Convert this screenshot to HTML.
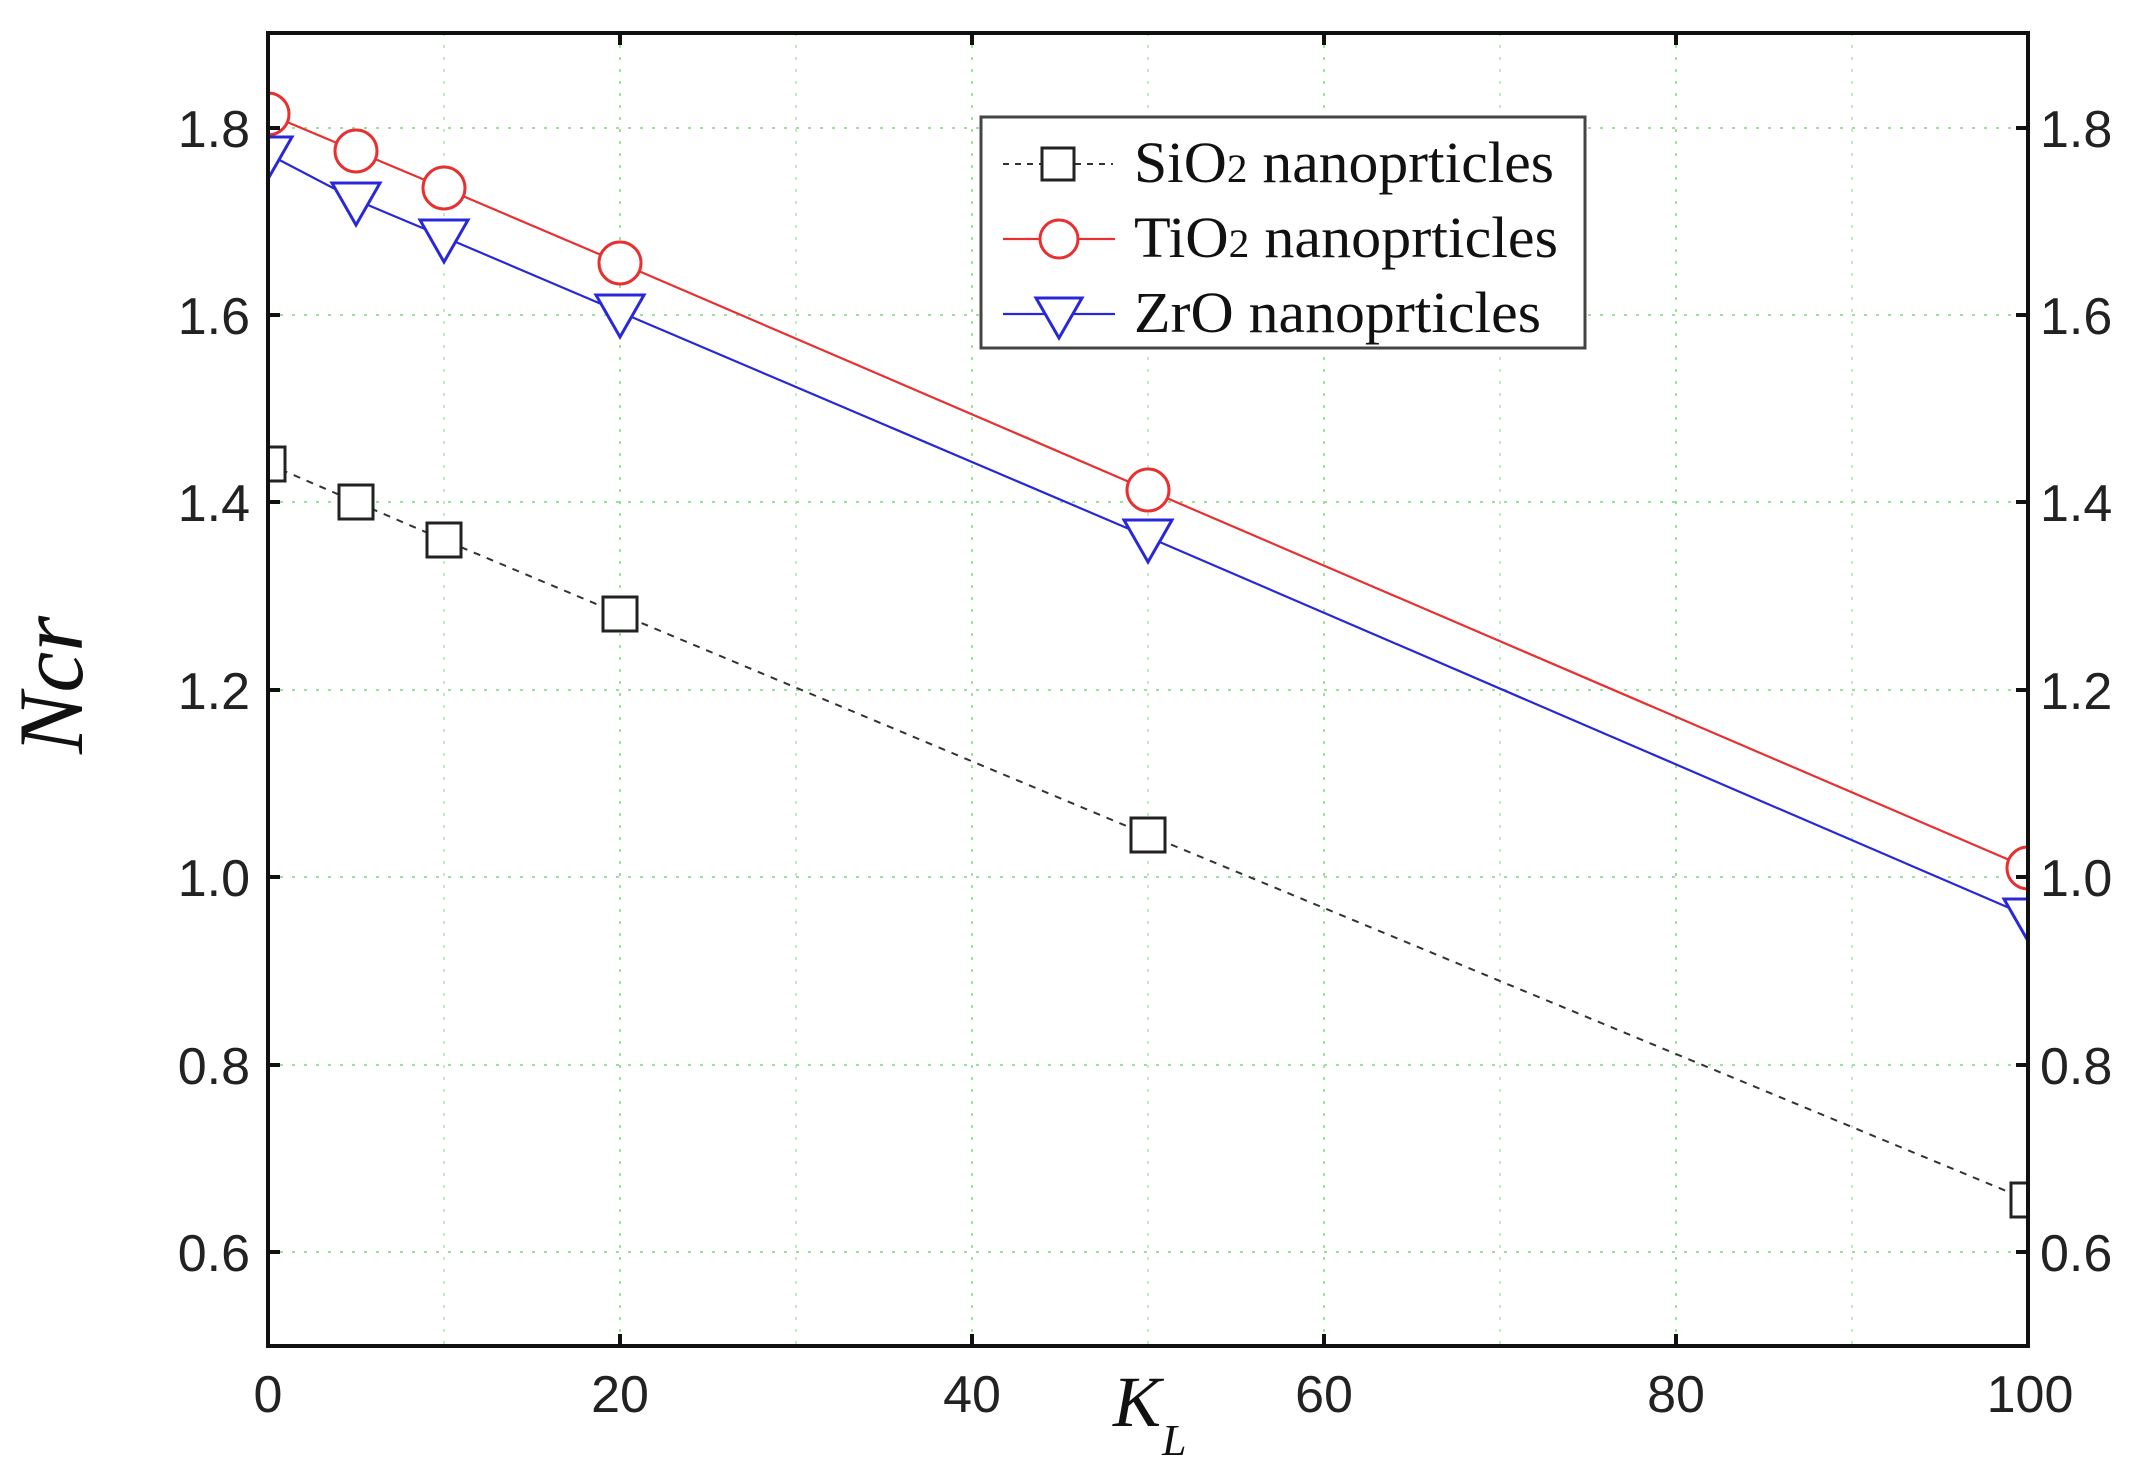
<!DOCTYPE html>
<html><head><meta charset="utf-8"><style>html,body{margin:0;padding:0;background:#fff;}svg{display:block}</style></head>
<body>
<svg width="2133" height="1479" viewBox="0 0 2133 1479" xmlns="http://www.w3.org/2000/svg">
<rect width="2133" height="1479" fill="#fff"/>
<g stroke="#9be09b" stroke-width="2" stroke-dasharray="3,9">
<line x1="444" y1="33" x2="444" y2="1346" opacity="0.6"/>
<line x1="620" y1="33" x2="620" y2="1346"/>
<line x1="796" y1="33" x2="796" y2="1346" opacity="0.6"/>
<line x1="972" y1="33" x2="972" y2="1346"/>
<line x1="1148" y1="33" x2="1148" y2="1346" opacity="0.6"/>
<line x1="1324" y1="33" x2="1324" y2="1346"/>
<line x1="1500" y1="33" x2="1500" y2="1346" opacity="0.6"/>
<line x1="1676" y1="33" x2="1676" y2="1346"/>
<line x1="1852" y1="33" x2="1852" y2="1346" opacity="0.6"/>
<line x1="268" y1="128" x2="2028" y2="128"/>
<line x1="268" y1="315" x2="2028" y2="315"/>
<line x1="268" y1="502" x2="2028" y2="502"/>
<line x1="268" y1="690" x2="2028" y2="690"/>
<line x1="268" y1="877" x2="2028" y2="877"/>
<line x1="268" y1="1065" x2="2028" y2="1065"/>
<line x1="268" y1="1252" x2="2028" y2="1252"/>
</g>
<polyline fill="none" stroke="#333" stroke-width="2" stroke-dasharray="7,7" points="268,464 356,502 444,540 620,614 1148,835 2028,1200"/>
<polyline fill="none" stroke="#e83030" stroke-width="2.2" points="268,114 356,151 444,188 620,263 1148,490 2028,868"/>
<polyline fill="none" stroke="#2828d8" stroke-width="2.2" points="268,154 356,200 444,237 620,312 1148,537 2028,916"/>
<g fill="#fff" stroke="#222" stroke-width="3">
<rect x="251" y="447" width="34" height="34"/>
<rect x="339" y="485" width="34" height="34"/>
<rect x="427" y="523" width="34" height="34"/>
<rect x="603" y="597" width="34" height="34"/>
<rect x="1131" y="818" width="34" height="34"/>
<rect x="2011" y="1183" width="34" height="34"/>
</g>
<g fill="#fff" stroke="#e83030" stroke-width="3">
<circle cx="268" cy="114" r="21"/>
<circle cx="356" cy="151" r="21"/>
<circle cx="444" cy="188" r="21"/>
<circle cx="620" cy="263" r="21"/>
<circle cx="1148" cy="490" r="21"/>
<circle cx="2028" cy="868" r="21"/>
</g>
<g fill="#fff" stroke="#2828d8" stroke-width="3">
<polygon points="244,137 292,137 268,179"/>
<polygon points="332,183 380,183 356,225"/>
<polygon points="420,220 468,220 444,262"/>
<polygon points="596,295 644,295 620,337"/>
<polygon points="1124,520 1172,520 1148,562"/>
<polygon points="2004,899 2052,899 2028,941"/>
</g>
<rect x="2030" y="0" width="103" height="1479" fill="#fff"/>
<rect x="0" y="0" width="266" height="1479" fill="#fff"/>
<rect x="268" y="33" width="1760" height="1313" fill="none" stroke="#111" stroke-width="4"/>
<g stroke="#111" stroke-width="4">
<line x1="268" y1="128" x2="280" y2="128"/><line x1="268" y1="315" x2="280" y2="315"/><line x1="268" y1="502" x2="280" y2="502"/><line x1="268" y1="690" x2="280" y2="690"/><line x1="268" y1="877" x2="280" y2="877"/><line x1="268" y1="1065" x2="280" y2="1065"/><line x1="268" y1="1252" x2="280" y2="1252"/>
<line x1="2016" y1="128" x2="2028" y2="128"/><line x1="2016" y1="315" x2="2028" y2="315"/><line x1="2016" y1="502" x2="2028" y2="502"/><line x1="2016" y1="690" x2="2028" y2="690"/><line x1="2016" y1="877" x2="2028" y2="877"/><line x1="2016" y1="1065" x2="2028" y2="1065"/><line x1="2016" y1="1252" x2="2028" y2="1252"/>
<line x1="620" y1="1346" x2="620" y2="1334"/><line x1="972" y1="1346" x2="972" y2="1334"/><line x1="1324" y1="1346" x2="1324" y2="1334"/><line x1="1676" y1="1346" x2="1676" y2="1334"/>
<line x1="620" y1="33" x2="620" y2="45"/><line x1="972" y1="33" x2="972" y2="45"/><line x1="1324" y1="33" x2="1324" y2="45"/><line x1="1676" y1="33" x2="1676" y2="45"/>
</g>
<g font-family="Liberation Sans, sans-serif" font-size="52" fill="#222">
<g text-anchor="end">
<text x="250" y="147">1.8</text><text x="250" y="334">1.6</text><text x="250" y="521">1.4</text><text x="250" y="709">1.2</text><text x="250" y="896">1.0</text><text x="250" y="1084">0.8</text><text x="250" y="1271">0.6</text>
</g>
<g text-anchor="start">
<text x="2040" y="147">1.8</text><text x="2040" y="334">1.6</text><text x="2040" y="521">1.4</text><text x="2040" y="709">1.2</text><text x="2040" y="896">1.0</text><text x="2040" y="1084">0.8</text><text x="2040" y="1271">0.6</text>
</g>
<g text-anchor="middle">
<text x="268" y="1412">0</text><text x="620" y="1412">20</text><text x="972" y="1412">40</text><text x="1324" y="1412">60</text><text x="1676" y="1412">80</text><text x="2030" y="1412">100</text>
</g>
</g>
<text transform="translate(82,685) rotate(-90)" text-anchor="middle" font-family="Liberation Serif, serif" font-style="italic" font-size="92" fill="#111">Ncr</text>
<text x="1113" y="1426" font-family="Liberation Serif, serif" font-style="italic" font-size="72" fill="#111">K</text>
<text x="1162" y="1455" font-family="Liberation Serif, serif" font-style="italic" font-size="44" fill="#111">L</text>
<rect x="981" y="117" width="604" height="231" fill="#fff" stroke="#444" stroke-width="3"/>
<line x1="1003" y1="164" x2="1113" y2="164" stroke="#333" stroke-width="2" stroke-dasharray="6,6"/>
<rect x="1042" y="148" width="32" height="32" fill="#fff" stroke="#222" stroke-width="3"/>
<line x1="1003" y1="239" x2="1115" y2="239" stroke="#e83030" stroke-width="2.2"/>
<circle cx="1059" cy="239" r="19" fill="#fff" stroke="#e83030" stroke-width="3"/>
<line x1="1003" y1="314" x2="1115" y2="314" stroke="#2828d8" stroke-width="2.2"/>
<polygon points="1036,298 1082,298 1059,338" fill="#fff" stroke="#2828d8" stroke-width="3"/>
<g font-family="Liberation Serif, serif" font-size="58" fill="#111">
<text x="1134" y="182" textLength="420" lengthAdjust="spacingAndGlyphs">SiO<tspan font-size="40">2</tspan> nanoprticles</text>
<text x="1134" y="257" textLength="424" lengthAdjust="spacingAndGlyphs">TiO<tspan font-size="40">2</tspan> nanoprticles</text>
<text x="1134" y="332" textLength="407" lengthAdjust="spacingAndGlyphs">ZrO nanoprticles</text>
</g>
</svg>
</body></html>
